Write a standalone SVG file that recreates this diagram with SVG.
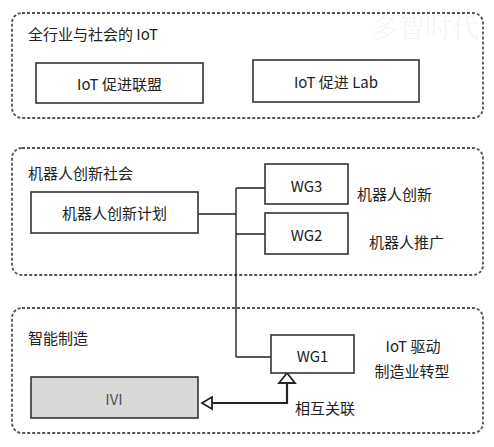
<svg xmlns="http://www.w3.org/2000/svg" width="494" height="447" viewBox="0 0 494 447">
<style>
.grp{fill:none;stroke:#555;stroke-width:1.8;stroke-dasharray:3 2}
.box{fill:#fff;stroke:#333;stroke-width:1.6}
.t{font-family:"Noto Sans CJK SC","Liberation Sans",sans-serif;font-size:15px;fill:#222}
.c{text-anchor:middle;dominant-baseline:central}
.l{dominant-baseline:central}
.conn{fill:none;stroke:#222;stroke-width:1.4}
.thick{fill:none;stroke:#222;stroke-width:2.2}
.head{fill:#fff;stroke:#222;stroke-width:1.8;stroke-linejoin:miter}
</style>
<rect width="494" height="447" fill="#fff"/>
<text x="425" y="26" text-anchor="middle" dominant-baseline="central" font-family="Noto Serif CJK SC,Noto Sans CJK SC,serif" font-size="27" fill="#f5f5f5">多智时代</text>
<g id="group-iot">
<rect class="grp" x="12" y="13" width="471" height="105" rx="10"/>
<text class="t l" x="28" y="33">全行业与社会的 IoT</text>
</g>
<g id="node-alliance">
<rect class="box" x="36" y="63" width="167" height="40"/>
<text class="t c" x="119.5" y="83">IoT 促进联盟</text>
</g>
<g id="node-lab">
<rect class="box" x="253" y="60" width="166" height="42"/>
<text class="t c" x="336" y="81">IoT 促进 Lab</text>
</g>
<g id="group-robot">
<rect class="grp" x="12" y="148" width="471" height="127" rx="10"/>
<text class="t l" x="28" y="172">机器人创新社会</text>
</g>
<g id="group-manufacturing">
<rect class="grp" x="12" y="308" width="471" height="125" rx="10"/>
<text class="t l" x="28" y="337">智能制造</text>
</g>
<g id="connectors">
<path class="conn" d="M198 214 H236 M236 188 V357 M236 188 H265 M236 234 H265 M236 357 H271"/>
<path class="thick" d="M212 403 H287 V383"/>
<polygon class="head" points="202,403 212,397 212,409"/>
<polygon class="head" points="287,373 279,383 295,383"/>
<text class="t l" x="295" y="407">相互关联</text>
</g>
<g id="node-plan">
<rect class="box" x="31" y="192" width="167" height="41"/>
<text class="t c" x="114.5" y="212.5">机器人创新计划</text>
</g>
<g id="node-wg3">
<rect class="box" x="265" y="164" width="83" height="40"/>
<text class="t c" x="306.5" y="185">WG3</text>
<text class="t l" x="357" y="193">机器人创新</text>
</g>
<g id="node-wg2">
<rect class="box" x="265" y="213" width="83" height="41"/>
<text class="t c" x="306.5" y="234">WG2</text>
<text class="t l" x="369" y="241">机器人推广</text>
</g>
<g id="node-wg1">
<rect class="box" x="271" y="335" width="83" height="38"/>
<text class="t c" x="312.5" y="355.5">WG1</text>
<text class="t c" x="413" y="345">IoT 驱动</text>
<text class="t c" x="412" y="370">制造业转型</text>
</g>
<g id="node-ivi">
<rect x="31" y="377" width="167" height="41" fill="#d9d9d9" stroke="#333" stroke-width="1.6"/>
<text class="t c" x="114" y="398" style="fill:#555">IVI</text>
</g>
</svg>
